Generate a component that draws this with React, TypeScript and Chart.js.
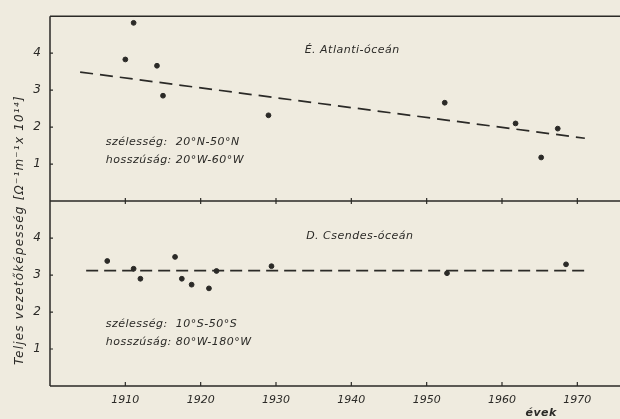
import React, { useEffect, useRef } from "react";
import { Chart, registerables } from "chart.js";

Chart.register(...registerables);

// ---- data ----
const atlYears = [1910, 1911.1, 1914.2, 1915, 1929, 1952.4, 1961.8, 1965.2, 1967.4];
const atlValues = [3.83, 4.82, 3.66, 2.85, 2.32, 2.66, 2.1, 1.18, 1.96];
const atlTrendYears = [1904, 1971];
const atlTrendValues = [3.49, 1.7];

const pacYears = [1907.6, 1911.1, 1912, 1916.6, 1917.5, 1918.8, 1921.1, 1922.1, 1929.4, 1952.7, 1968.5];
const pacValues = [3.38, 3.17, 2.9, 3.49, 2.9, 2.74, 2.64, 3.11, 3.24, 3.05, 3.29];
const pacTrendYears = [1904.8, 1971.4];
const pacTrendValues = [3.12, 3.12];

const xTicks = [1910, 1920, 1930, 1940, 1950, 1960, 1970];
const yTicks = [1, 2, 3, 4];

const yTitle = "Teljes vezetőképesség [Ω⁻¹m⁻¹x 10¹⁴]";
const xTitle = "évek";
const atlLabels = ["É. Atlanti-óceán", "szélesség:  20°N-50°N", "hosszúság: 20°W-60°W"];
const pacLabels = ["D. Csendes-óceán", "szélesség:  10°S-50°S", "hosszúság: 80°W-180°W"];

const INK = "#2b2a27";
const PAPER = "#efebdf";
const FONT = "'DejaVu Sans', sans-serif";

const toXY = (xs: number[], ys: number[]) => xs.map((x, i) => ({ x, y: ys[i] }));

const decorPlugin = {
  id: "decor",
  beforeDraw(chart: any) {
    const { ctx, width, height } = chart;
    ctx.save();
    ctx.fillStyle = PAPER;
    ctx.fillRect(0, 0, width, height);
    ctx.restore();
  },
  afterDatasetsDraw(chart: any) {
    const { ctx, chartArea, width } = chart;
    const x = chart.scales.x;
    const yT = chart.scales.yTop;
    const yB = chart.scales.yBot;
    ctx.save();
    ctx.strokeStyle = INK;
    ctx.lineWidth = 1.5;
    // frame lines
    ctx.beginPath();
    ctx.moveTo(chartArea.left, yT.top);
    ctx.lineTo(width, yT.top);
    ctx.moveTo(chartArea.left, yT.bottom);
    ctx.lineTo(width, yT.bottom);
    ctx.moveTo(chartArea.left, yB.bottom);
    ctx.lineTo(width, yB.bottom);
    ctx.moveTo(chartArea.left, yT.top);
    ctx.lineTo(chartArea.left, yB.bottom);
    ctx.stroke();
    // ticks
    ctx.lineWidth = 1.2;
    ctx.beginPath();
    xTicks.forEach((v) => {
      const px = x.getPixelForValue(v);
      ctx.moveTo(px, yT.bottom - 3);
      ctx.lineTo(px, yT.bottom + 3);
      ctx.moveTo(px, yB.bottom);
      ctx.lineTo(px, yB.bottom - 4);
    });
    [yT, yB].forEach((s) => {
      yTicks.forEach((v) => {
        const py = s.getPixelForValue(v);
        ctx.moveTo(chartArea.left, py);
        ctx.lineTo(chartArea.left + 3, py);
      });
    });
    ctx.stroke();

    // texts
    ctx.fillStyle = INK;
    ctx.textBaseline = "middle";
    ctx.textAlign = "left";
    (ctx as any).letterSpacing = "0.5px";
    ctx.font = `italic 11px ${FONT}`;
    ctx.fillText(atlLabels[0], x.getPixelForValue(1933.8), yT.getPixelForValue(4.09));
    ctx.fillText(pacLabels[0], x.getPixelForValue(1934), yB.getPixelForValue(4.04));
    ctx.fillText(atlLabels[1], x.getPixelForValue(1907.4), yT.getPixelForValue(1.6));
    ctx.fillText(atlLabels[2], x.getPixelForValue(1907.4), yT.getPixelForValue(1.12));
    ctx.fillText(pacLabels[1], x.getPixelForValue(1907.4), yB.getPixelForValue(1.66));
    ctx.fillText(pacLabels[2], x.getPixelForValue(1907.4), yB.getPixelForValue(1.18));

    ctx.textAlign = "center";
    ctx.font = `italic bold 11px ${FONT}`;
    ctx.fillText(xTitle, x.getPixelForValue(1965.2), 413);

    ctx.save();
    ctx.translate(20, (yT.top + yB.bottom) / 2 + 29);
    ctx.rotate(-Math.PI / 2);
    (ctx as any).letterSpacing = "1.2px";
    ctx.font = `italic 12px ${FONT}`;
    ctx.fillText(yTitle, 0, 0);
    ctx.restore();
    ctx.restore();
  },
};

export default function App() {
  const ref = useRef<HTMLCanvasElement | null>(null);
  useEffect(() => {
    if (!ref.current) return;
    const yScale = (extra: any) => ({
      type: "linear",
      position: "left",
      stack: "panels",
      stackWeight: 1,
      min: 0,
      max: 5,
      grid: { display: false, drawTicks: false },
      border: { display: false },
      afterFit: (s: any) => {
        s.width = 50;
      },
      afterBuildTicks: (s: any) => {
        s.ticks = yTicks.map((v) => ({ value: v }));
      },
      ticks: {
        padding: 9,
        color: INK,
        font: { family: FONT, size: 12, style: "italic" },
      },
      ...extra,
    });
    const chart = new Chart(ref.current, {
      type: "scatter",
      data: {
        datasets: [
          {
            data: toXY(atlYears, atlValues),
            yAxisID: "yTop",
            backgroundColor: INK,
            borderColor: INK,
            pointRadius: 2.4,
            pointBorderWidth: 1,
            showLine: false,
          },
          {
            data: toXY(atlTrendYears, atlTrendValues),
            yAxisID: "yTop",
            borderColor: INK,
            borderWidth: 1.7,
            borderDash: [13, 7],
            pointRadius: 0,
            showLine: true,
          },
          {
            data: toXY(pacYears, pacValues),
            yAxisID: "yBot",
            backgroundColor: INK,
            borderColor: INK,
            pointRadius: 2.4,
            pointBorderWidth: 1,
            showLine: false,
          },
          {
            data: toXY(pacTrendYears, pacTrendValues),
            yAxisID: "yBot",
            borderColor: INK,
            borderWidth: 1.7,
            borderDash: [12, 6],
            pointRadius: 0,
            showLine: true,
          },
        ] as any,
      },
      options: {
        animation: false,
        responsive: false,
        layout: { padding: { top: 12, left: 0, right: 0, bottom: 0 } },
        plugins: { legend: { display: false }, tooltip: { enabled: false } },
        scales: {
          x: {
            type: "linear",
            min: 1900,
            max: 1975,
            grid: { display: false, drawTicks: false },
            border: { display: false },
            afterFit: (s: any) => {
              s.height = 33;
            },
            afterBuildTicks: (s: any) => {
              s.ticks = xTicks.map((v) => ({ value: v }));
            },
            ticks: {
              padding: 8,
              color: INK,
              autoSkip: false,
              maxRotation: 0,
              callback: (v: any) => String(v),
              font: { family: FONT, size: 11, style: "italic" },
            },
          },
          yBot: yScale({}),
          yTop: yScale({}),
        } as any,
      },
      plugins: [decorPlugin],
    });
    return () => chart.destroy();
  }, []);
  return (
    <div style={{ position: "fixed", left: 0, top: 0, width: 620, height: 419, background: PAPER }}>
      <canvas ref={ref} width={620} height={419} style={{ width: 620, height: 419, display: "block" }} />
    </div>
  );
}
